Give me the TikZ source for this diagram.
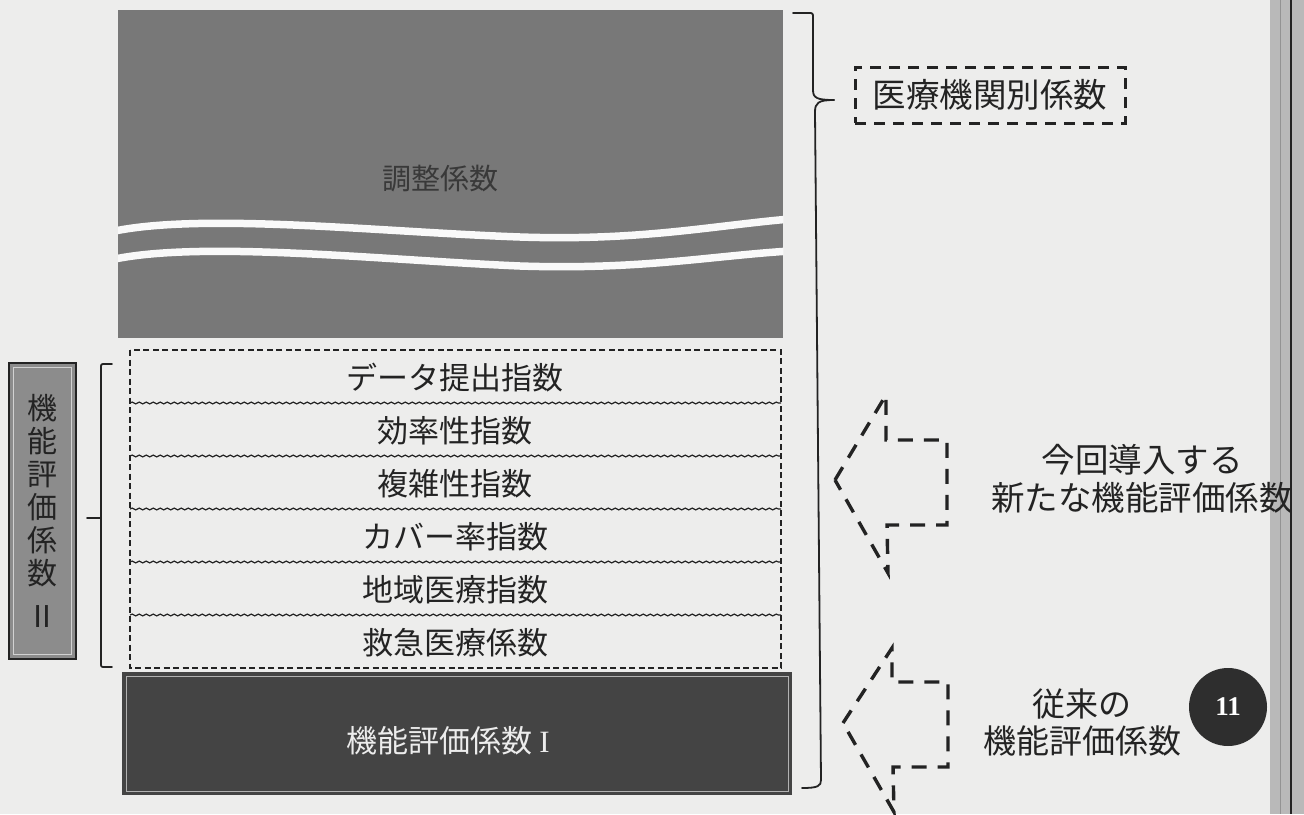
\documentclass[tikz,border=0pt]{standalone}
\usepackage{fontspec}
\newfontfamily\jp{Noto Sans CJK JP}
\newfontfamily\serifnum{Liberation Serif}
\usetikzlibrary{decorations.pathmorphing}
\definecolor{paper}{RGB}{237,237,236}
\definecolor{topgray}{RGB}{120,120,120}
\definecolor{botgray}{RGB}{68,68,68}
\definecolor{leftgray}{RGB}{140,140,140}
\definecolor{ink}{RGB}{35,35,35}
\tikzset{
  dashbox/.style={draw=ink, line width=1.3pt, dash pattern=on 6pt off 3.5pt},
  wavysep/.style={draw=ink, line width=1.2pt, decorate, decoration={snake, amplitude=0.9pt, segment length=7pt}},
  rowtext/.style={font=\jp\fontsize{31}{36}\selectfont, text=ink, inner sep=0pt},
  bigtext/.style={font=\jp\fontsize{33.5}{38}\selectfont, text=ink, inner sep=0pt, align=center},
  bracestyle/.style={draw=ink, line width=1.8pt, line join=round, line cap=round},
  dasharrow/.style={draw=ink, line width=3.4pt, dash pattern=on 15pt off 11pt, line join=miter},
  whitewave/.style={draw=white!95!gray, line width=7.5pt}
}
\begin{document}
\begin{tikzpicture}[x=1pt,y=-1pt]
\useasboundingbox (0,0) rectangle (1304,814);
\fill[paper] (0,0) rectangle (1304,814);

% right scan strip
\fill[gray!55] (1270,0) rectangle (1304,814);
\draw[gray!85, line width=1pt] (1280,0) -- (1280,814);
\draw[ink, line width=1.8pt] (1291,0) -- (1291,814);

% top box: adjustment coefficient
\node[fill=topgray, minimum width=665pt, minimum height=328pt, inner sep=0pt, anchor=north west] (adj) at (118,10) {};
\begin{scope}
\clip (adj.north west) rectangle (adj.south east);
\draw[whitewave] (110,232) .. controls (200,212) and (380,232) .. (520,237) .. controls (640,241) and (710,226) .. (790,219);
\draw[whitewave] (110,260) .. controls (200,240) and (380,260) .. (520,266) .. controls (640,270) and (710,256) .. (790,251);
\end{scope}
\node[font=\jp\fontsize{29}{34}\selectfont, text=ink!90, inner sep=0pt] (adjlabel) at (440,179) {調整係数};

% index box
\draw[dashbox] (130,350) rectangle (781,668);
\coordinate (sL1) at (130,403); \coordinate (sR1) at (781,403);
\coordinate (sL2) at (130,456); \coordinate (sR2) at (781,456);
\coordinate (sL3) at (130,509); \coordinate (sR3) at (781,509);
\coordinate (sL4) at (130,562); \coordinate (sR4) at (781,562);
\coordinate (sL5) at (130,615); \coordinate (sR5) at (781,615);
\foreach \i in {1,...,5} { \draw[wavysep] (sL\i) -- (sR\i); }
\node[rowtext] (r1) at (455,378) {データ提出指数};
\node[rowtext] (r2) at (455,431) {効率性指数};
\node[rowtext] (r3) at (455,484) {複雑性指数};
\node[rowtext] (r4) at (455,537) {カバー率指数};
\node[rowtext] (r5) at (455,590) {地域医療指数};
\node[rowtext] (r6) at (455,643) {救急医療係数};

% bottom box
\fill[botgray] (122,672) rectangle (792,795);
\draw[gray!60, line width=0.8pt] (126,676) rectangle (788,791);
\node[font=\jp\fontsize{31}{36}\selectfont, text=white!85!gray, inner sep=0pt] (f1) at (448,741) {機能評価係数 {\serifnum I}};

% left box
\draw[draw=ink, line width=2.6pt, fill=leftgray] (9,363) rectangle (76,659);
\draw[gray!35, line width=1pt] (13.5,367.5) rectangle (71.5,654.5);
\node[font=\jp\fontsize{30}{33}\selectfont, text=ink, inner sep=0pt, align=center] (f2) at (42.5,511) {機\\能\\評\\価\\係\\数\\[10pt]Ⅱ};

% left bracket
\coordinate (lbT) at (112,364);
\coordinate (lbB) at (112,667);
\coordinate (lbTip) at (87,518);
\draw[bracestyle] (lbT) -- (105,364) .. controls (101,364) .. (101,368) -- (101,663) .. controls (101,667) .. (105,667) -- (lbB);
\draw[bracestyle] (lbTip) -- (101,518);

% right brace
\coordinate (rbT) at (793,13);
\coordinate (rbB) at (802,788);
\coordinate (rbTip) at (834,100);
\draw[bracestyle] (rbT) -- (808,13) .. controls (813,13) .. (813,18) -- (813,90) .. controls (813,98) and (817,100) .. (rbTip);
\draw[bracestyle] (rbTip) .. controls (818,100) and (815,103) .. (815,112) -- (821,780) .. controls (821,786) and (818,788) .. (rbB);

% medical institution coefficient box
\node[bigtext, draw=ink, line width=3pt, dash pattern=on 11pt off 8pt, minimum width=270pt, minimum height=56pt] (med) at (990,95) {医療機関別係数};

% dashed arrows
\coordinate (a1tip) at (835,480);
\draw[dasharrow] (a1tip) -- (886,395) -- (886,440) -- (947,440) -- (947,525) -- (887,525) -- (888,573) -- cycle;
\coordinate (a2tip) at (843,723);
\draw[dasharrow] (a2tip) -- (892,648) -- (892,682) -- (948,682) -- (948,767) -- (893,767) -- (894,812) -- cycle;

% right texts
\node[bigtext] (newtxt) at (1142,479) {今回導入する\\新たな機能評価係数};
\node[bigtext, font=\jp\fontsize{33}{37}\selectfont] (oldtxt) at (1082,722) {従来の\\機能評価係数};

% page badge
\node[circle, fill=ink!95, minimum size=78pt, inner sep=0pt, text=white, font=\serifnum\bfseries\fontsize{27}{27}\selectfont] (badge) at (1228,707) {11};
\end{tikzpicture}
\end{document}
